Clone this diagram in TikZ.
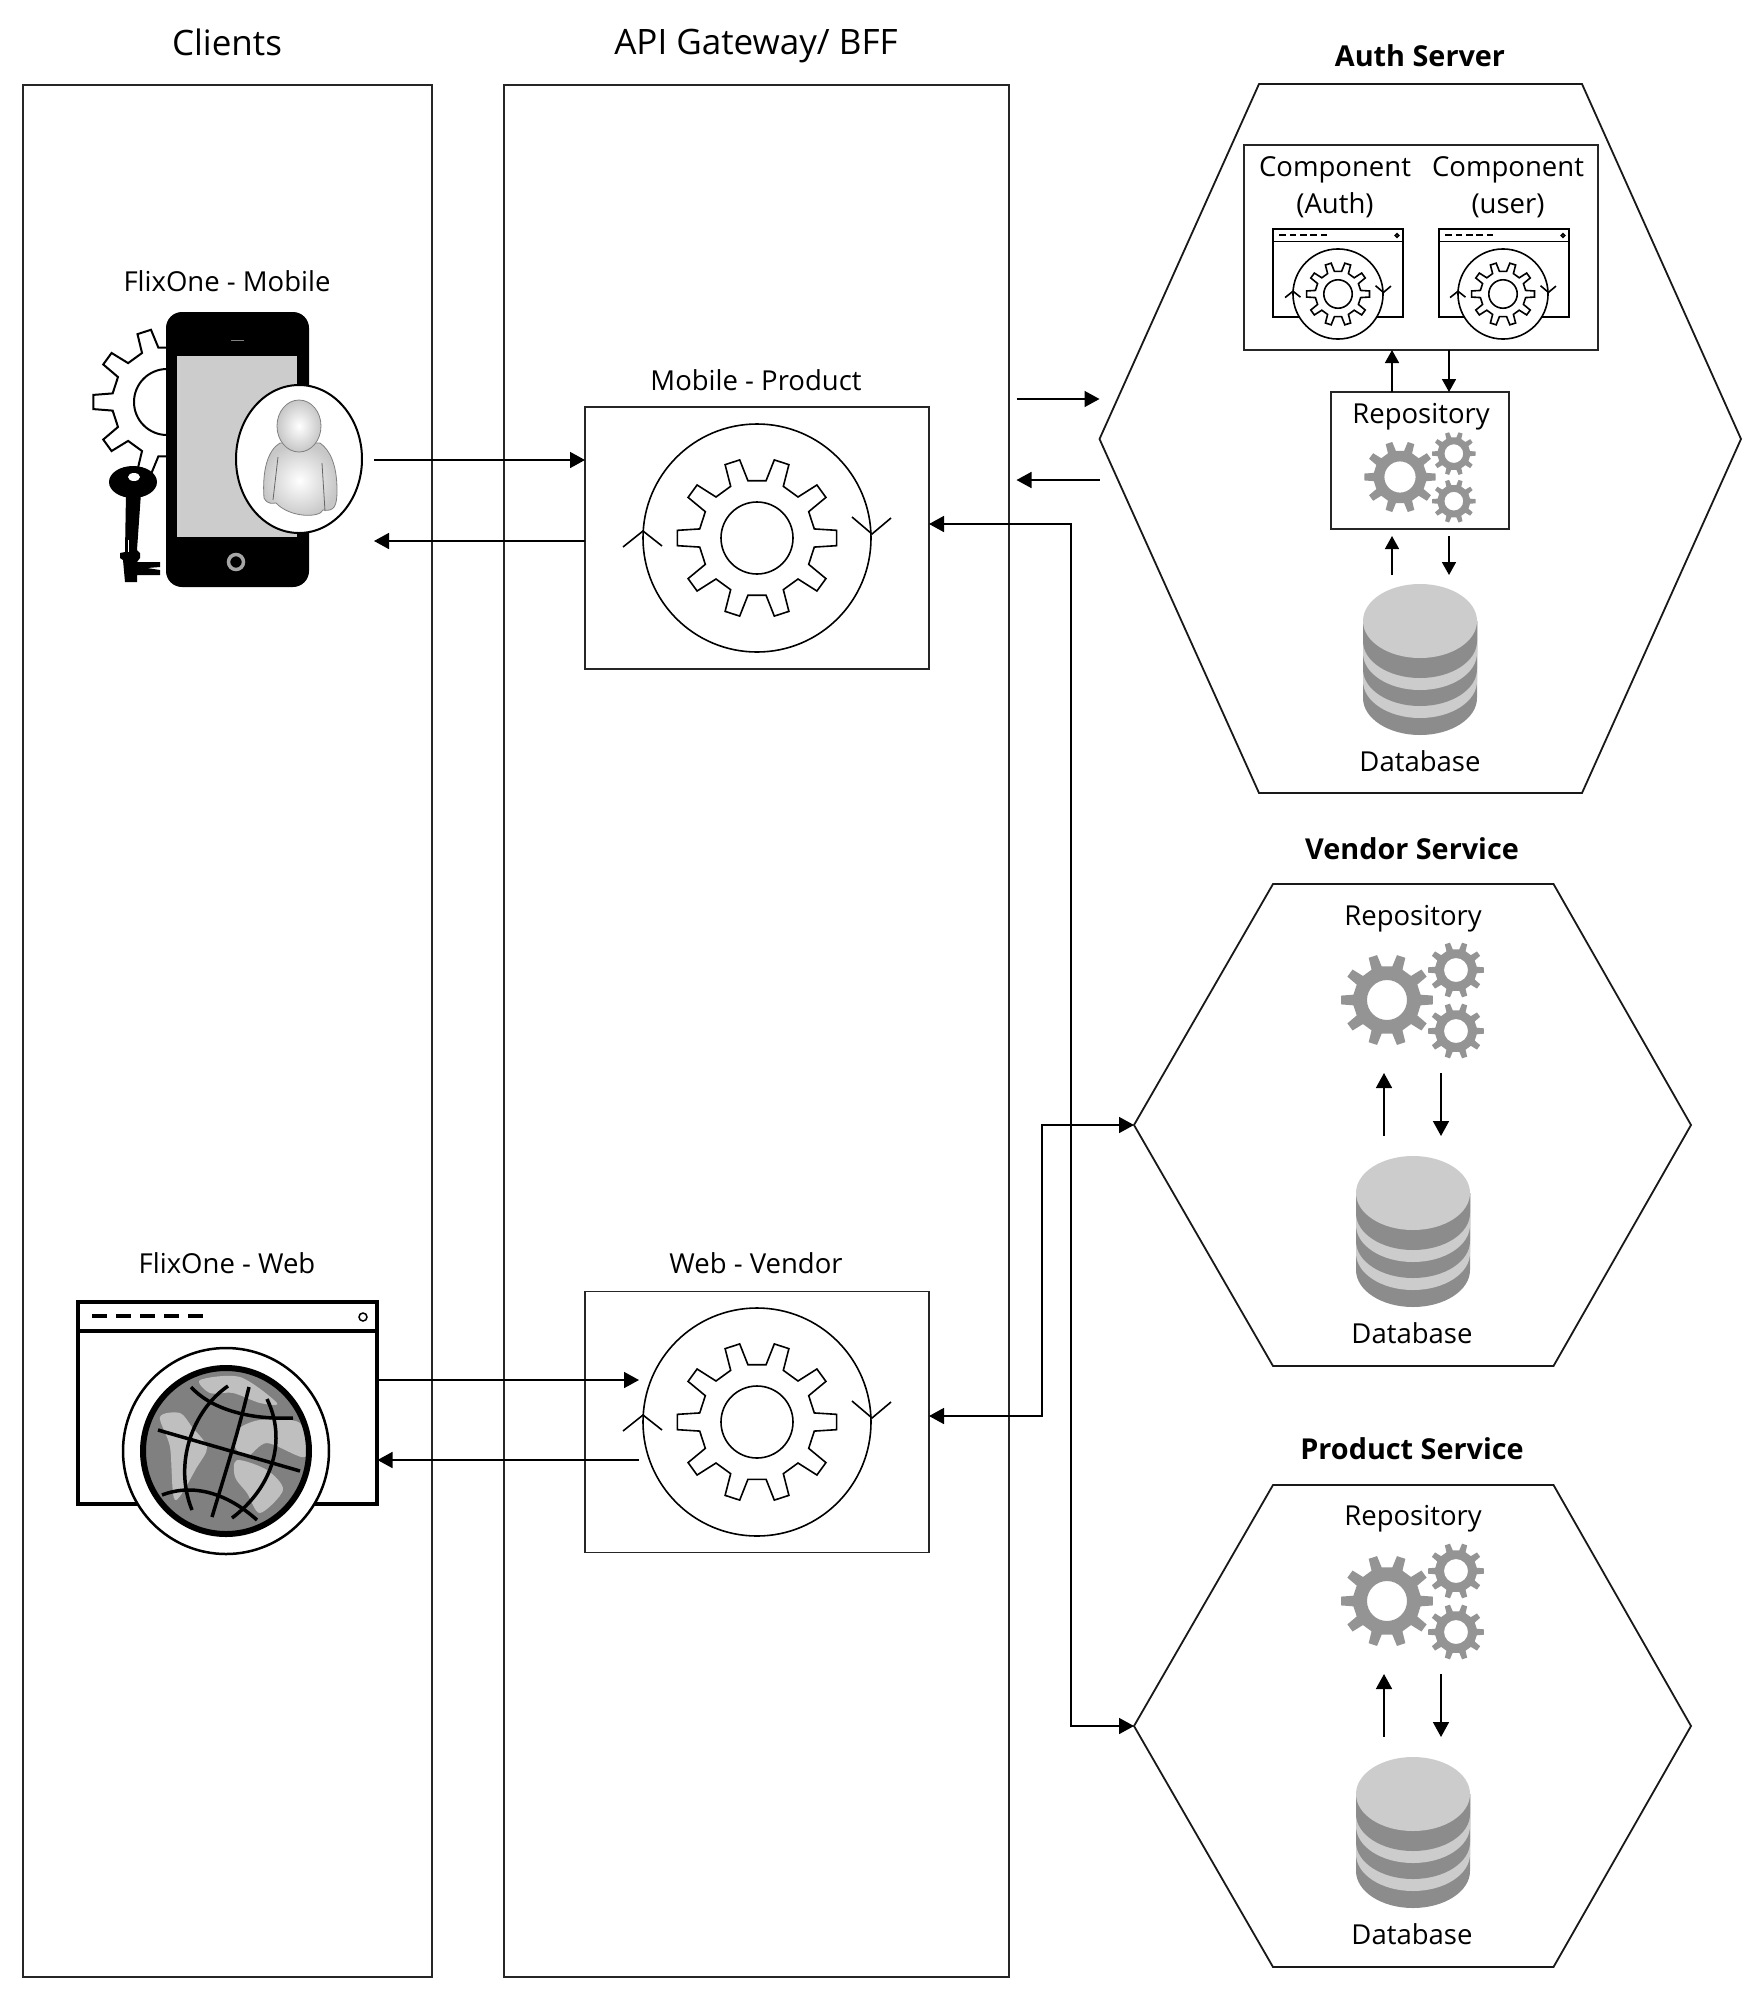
\documentclass[tikz,border=0pt]{standalone}
\usepackage{fontspec}
\setmainfont{Open Sans}
\usetikzlibrary{calc,arrows.meta,shapes.geometric}

\tikzset{
	frame/.style={draw=black!85, line width=1.7pt, inner sep=0pt, outer sep=0pt},
	hexline/.style={draw=black!90, line width=1.8pt, line join=miter},
	lbl/.style={inner sep=0pt, text depth=0pt, align=center, font=\fontsize{27.5}{37}\selectfont},
	headlbl/.style={inner sep=0pt, text depth=0pt, font=\fontsize{35}{37}\selectfont},
	titlelbl/.style={inner sep=0pt, text depth=0pt, font=\bfseries\fontsize{28.8}{37}\selectfont},
	flow/.style={draw=black, line width=1.6pt, -{Triangle[length=15pt,width=16pt]}},
	smallflow/.style={draw=black, line width=1.6pt, -{Triangle[length=13pt,width=14pt]}},
	biflow/.style={draw=black, line width=1.6pt, {Triangle[length=15pt,width=16pt]}-{Triangle[length=15pt,width=16pt]}},
	gearline/.style={draw=black, fill=white, line width=1.6pt, even odd rule},
	gearfill/.style={fill=black!42, even odd rule},
	pics/gear/.style n args={3}{code={
		\path[pic actions] (-9:#2) \foreach \a in {0,36,...,324} {
			-- (\a-9:#2) -- (\a-5.5:#1) -- (\a+5.5:#1) -- (\a+9:#2)
		} -- cycle (0,0) circle[radius=#3];
	}},
	pics/gearcycle/.style={code={
		\draw[fill=white, line width=1.6pt] (0,0) circle[radius=114];
		\pic[gearline, transform shape] at (0,0) {gear={80}{58}{36}};
		\draw[line width=1.6pt] (-134,9) -- (-114,-7) -- (-95,8);
		\draw[line width=1.6pt] (95,-21) -- (115,-4) -- (134,-20);
	}},
	pics/repogears/.style={code={
		\pic[gearfill, transform shape] at (0,0) {gear={46}{34}{20}};
		\pic[gearfill, transform shape] at (69,-30) {gear={28}{21}{12}};
		\pic[gearfill, transform shape] at (69,31) {gear={28}{21}{12}};
	}},
	pics/dbstack/.style={code={
		\foreach \b/\c in {114/black!45,97/black!20,85/black!45,69/black!20,57/black!45} {
			\fill[\c] (-57,37) -- (-57,\b) arc[start angle=180, end angle=0, x radius=57, y radius=37] -- (57,37) -- cycle;
		}
		\fill[black!20] (0,37) ellipse[x radius=57, y radius=37];
	}},
	pics/webwindow/.style={code={
		\path[pic actions, draw, fill=white] (0,0) rectangle (299,202);
		\path[pic actions, draw] (0,29) -- (299,29);
		\foreach \x in {14,38,62,86,110} {
			\path[pic actions, draw] (\x,14) -- ++(15,0);
		}
		\draw[fill=white, line width=1.5pt] (285,15) circle[radius=4];
	}},
}

\begin{document}
\begin{tikzpicture}[x=1pt, y=-1pt]
\useasboundingbox[fill=white] (0,0) rectangle (1764,2000);

% columns
\node[frame, minimum width=409pt, minimum height=1892pt] (clientsbox) at (227.5,1031) {};
\node[frame, minimum width=505pt, minimum height=1892pt] (gatewaybox) at (756.5,1031) {};
\node[headlbl] (clientshead) at (227,42) {Clients};
\node[headlbl] (gatewayhead) at (756,42) {API Gateway/ BFF};

% mobile client
\node[lbl] (mobilelbl) at (227,281) {FlixOne - Mobile};
\pic[gearline, line width=2pt] at (167,402) {gear={74}{55}{33}};
\fill[black] (126,493) -- (141,493) -- (137,550) -- (140,553) -- (140,558) -- (137,562) -- (160,562) -- (160,567) -- (147,568) -- (160,570) -- (160,575) -- (137,575) -- (137,582) -- (125,582) -- (123,560) -- (120,558) -- (120,553) -- (125,552) -- cycle;
\fill[black] (133,482) ellipse[x radius=24, y radius=16];
\fill[white] (134,477) ellipse[x radius=6, y radius=4];
\draw[white, line width=1pt] (128,540) -- (128,552);
\fill[black, rounded corners=16pt] (166,312) rectangle (309,587);
\fill[black!20] (177,356) rectangle (297,537);
\draw[black!50, line width=1pt] (231,340) -- (244,340);
\draw[black!35, fill=black, line width=3.5pt] (236,562) circle[radius=7.5];
\node[draw=black, fill=white, line width=2pt, shape=ellipse, minimum width=126pt, minimum height=148pt, inner sep=0pt, outer sep=0pt] (mobileoval) at (299,459) {};
\shade[draw=black!50, inner color=white, outer color=black!22, line width=0.8pt] (280,443) .. controls (268,450) and (262,470) .. (264,498) .. controls (268,505) and (272,503) .. (276,503) .. controls (290,518) and (320,518) .. (323,510) .. controls (335,512) and (337,505) .. (337,490) .. controls (337,465) and (330,450) .. (320,443) -- cycle;
\draw[black!60, line width=0.8pt] (278,457) -- (273,500);
\draw[black!60, line width=0.8pt] (322,463) -- (325,511);
\shade[draw=black!50, inner color=white, outer color=black!22, line width=0.8pt] (299,426) ellipse[x radius=22, y radius=26];

% web client
\node[lbl] (weblbl) at (227,1263) {FlixOne - Web};
\pic[line width=3.5pt] at (78,1302) {webwindow};
\draw[fill=white, line width=2.5pt] (226,1451) circle[radius=103];
\begin{scope}
	\clip (226,1451) circle[radius=83];
	\fill[black!50] (226,1451) circle[radius=83];
	\fill[black!25] plot[smooth cycle] coordinates {(160,1417) (180,1413) (192,1427) (207,1447) (197,1467) (175,1500) (170,1447)};
	\fill[black!25] plot[smooth cycle] coordinates {(237,1430) (260,1420) (300,1423) (305,1457) (267,1443) (247,1457) (235,1447)};
	\fill[black!25] plot[smooth cycle] coordinates {(237,1460) (267,1470) (283,1490) (260,1513) (247,1493) (235,1477)};
	\fill[black!25] plot[smooth cycle] coordinates {(200,1380) (240,1377) (277,1403) (260,1403) (233,1393) (210,1393)};
\end{scope}
\draw[line width=6pt] (226,1451) circle[radius=83];
\draw[line width=3.5pt] (158,1430) -- (300,1471);
\draw[line width=3.5pt] (191,1387) .. controls (210,1408) and (247,1420) .. (293,1418);
\draw[line width=3.5pt] (162,1495) .. controls (193,1483) and (227,1493) .. (257,1520);
\draw[line width=3.5pt] (228,1386) .. controls (193,1410) and (173,1463) .. (192,1510);
\draw[line width=3.5pt] (249,1387) .. controls (237,1437) and (223,1480) .. (212,1517);
\draw[line width=3.5pt] (267,1399) .. controls (287,1440) and (273,1487) .. (232,1518);

% gateway boxes
\node[lbl] (mobileprodlbl) at (756,380) {Mobile - Product};
\node[frame, minimum width=344pt, minimum height=262pt] (mobileprod) at (757,538) {};
\pic at (mobileprod.center) {gearcycle};
\node[lbl] (webvendorlbl) at (756,1263) {Web - Vendor};
\node[frame, minimum width=344pt, minimum height=261pt] (webvendor) at (757,1422) {};
\pic at (webvendor.center) {gearcycle};

% auth server
\node[titlelbl] (authtitle) at (1420,56) {Auth Server};
\draw[hexline] (1259,84) -- (1582,84) -- (1741,439) -- (1582,793) -- (1259,793) -- (1099.5,439) coordinate (authwest) -- cycle;
\node[frame, minimum width=354pt, minimum height=205pt] (compbox) at (1421,247.5) {};
\node[lbl] (authcomplbl) at (1335,185) {Component\\(Auth)};
\node[lbl] (usercomplbl) at (1508,185) {Component\\(user)};
\pic[line width=1.6pt, scale=0.435] at (1273,229) {webwindow};
\pic[line width=1.6pt, scale=0.435] at (1439,229) {webwindow};
\pic[scale=0.395] at (1338,294) {gearcycle};
\pic[scale=0.395] at (1503,294) {gearcycle};
\node[frame, minimum width=178pt, minimum height=137pt] (repobox) at (1420,460.5) {};
\node[lbl] (authrepolbl) at (1421,413) {Repository};
\pic[scale=0.78] at (1400,477) {repogears};
\coordinate (compup) at (1392,392);
\coordinate (compdown) at (1449,392);
\draw[smallflow] (compup) -- (compup |- compbox.south);
\draw[smallflow] (compdown |- compbox.south) -- (compdown);
\coordinate (authdbup) at (1392,575);
\coordinate (authdbdown) at (1449,536);
\draw[smallflow] (authdbup) -- ++(0,-39);
\draw[smallflow] (authdbdown) -- ++(0,39);
\pic at (1420,584) {dbstack};
\node[lbl] (authdblbl) at (1420,761) {Database};

% vendor service
\node[titlelbl] (vendortitle) at (1412,849) {Vendor Service};
\draw[hexline] (1273,884) -- (1553.5,884) -- (1691,1125) -- (1553.5,1366) -- (1273,1366) -- (1134,1125) coordinate (vendorwest) -- cycle;
\node[lbl] (vendorrepolbl) at (1413,915) {Repository};
\pic at (1387,1000) {repogears};
\coordinate (vendordbup) at (1384,1136);
\coordinate (vendordbdown) at (1441,1073);
\draw[flow] (vendordbup) -- ++(0,-63);
\draw[flow] (vendordbdown) -- ++(0,63);
\pic at (1413,1156) {dbstack};
\node[lbl] (vendordblbl) at (1412,1333) {Database};

% product service
\node[titlelbl] (producttitle) at (1412,1449) {Product Service};
\draw[hexline] (1273,1485) -- (1553.5,1485) -- (1691,1726) -- (1553.5,1967) -- (1273,1967) -- (1134,1726) coordinate (productwest) -- cycle;
\node[lbl] (productrepolbl) at (1413,1515) {Repository};
\pic at (1387,1601) {repogears};
\coordinate (productdbup) at (1384,1737);
\coordinate (productdbdown) at (1441,1674);
\draw[flow] (productdbup) -- ++(0,-63);
\draw[flow] (productdbdown) -- ++(0,63);
\pic at (1413,1757) {dbstack};
\node[lbl] (productdblbl) at (1412,1934) {Database};

% connectors
\coordinate (mobileout) at (374,460);
\coordinate (mobilein) at (374,541);
\draw[flow] (mobileout) -- (mobileout -| mobileprod.west);
\draw[flow] (mobilein -| mobileprod.west) -- (mobilein);
\coordinate (authgo) at (1016.5,399);
\coordinate (authback) at (1016.5,480);
\draw[flow] (authgo) -- (authgo -| authwest);
\draw[flow] (authback -| authwest) -- (authback);
\coordinate (webgo) at (377.5,1380);
\coordinate (webback) at (377.5,1460);
\coordinate (webcycle) at (639,1422);
\draw[flow] (webgo) -- (webgo -| webcycle);
\draw[flow] (webback -| webcycle) -- (webback);
\draw[biflow] ($ (mobileprod.east) + (0,-14) $) -- ++(142,0) |- (productwest);
\draw[biflow] ($ (webvendor.east) + (0,-6) $) -- ++(113,0) |- (vendorwest);
\end{tikzpicture}
\end{document}
